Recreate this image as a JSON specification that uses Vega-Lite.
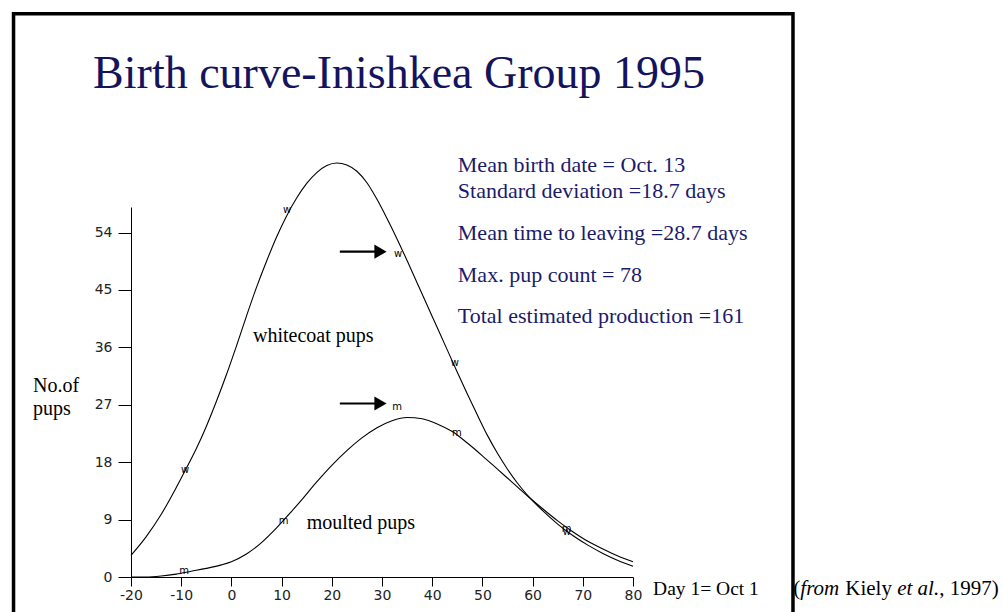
{
  "$schema": "https://vega.github.io/schema/vega-lite/v6.json",
  "autosize": "none",
  "width": 502,
  "height": 370,
  "padding": {"left": 131, "top": 207, "right": 370, "bottom": 35},
  "background": "white",
  "config": {"view": {"stroke": null}},
  "datasets": {
    "curves": [
      {"series": "whitecoat", "day": -20, "pups": 3.4},
      {"series": "whitecoat", "day": -17, "pups": 6.3},
      {"series": "whitecoat", "day": -14, "pups": 9.8},
      {"series": "whitecoat", "day": -11, "pups": 14.0},
      {"series": "whitecoat", "day": -9, "pups": 17.0},
      {"series": "whitecoat", "day": -7, "pups": 20.1},
      {"series": "whitecoat", "day": -5, "pups": 23.6},
      {"series": "whitecoat", "day": -3, "pups": 27.5},
      {"series": "whitecoat", "day": -1, "pups": 31.7},
      {"series": "whitecoat", "day": 1, "pups": 36.2},
      {"series": "whitecoat", "day": 3, "pups": 40.9},
      {"series": "whitecoat", "day": 5, "pups": 45.4},
      {"series": "whitecoat", "day": 7, "pups": 49.5},
      {"series": "whitecoat", "day": 9, "pups": 53.3},
      {"series": "whitecoat", "day": 11, "pups": 56.6},
      {"series": "whitecoat", "day": 13, "pups": 59.4},
      {"series": "whitecoat", "day": 15, "pups": 61.7},
      {"series": "whitecoat", "day": 17, "pups": 63.4},
      {"series": "whitecoat", "day": 19, "pups": 64.5},
      {"series": "whitecoat", "day": 21, "pups": 64.9},
      {"series": "whitecoat", "day": 23, "pups": 64.6},
      {"series": "whitecoat", "day": 25, "pups": 63.6},
      {"series": "whitecoat", "day": 27, "pups": 61.8},
      {"series": "whitecoat", "day": 29, "pups": 59.2},
      {"series": "whitecoat", "day": 31, "pups": 56.2},
      {"series": "whitecoat", "day": 33, "pups": 53.0},
      {"series": "whitecoat", "day": 35, "pups": 49.6},
      {"series": "whitecoat", "day": 37, "pups": 46.1},
      {"series": "whitecoat", "day": 39, "pups": 42.6},
      {"series": "whitecoat", "day": 41, "pups": 39.1},
      {"series": "whitecoat", "day": 43, "pups": 35.6},
      {"series": "whitecoat", "day": 45, "pups": 32.1},
      {"series": "whitecoat", "day": 47, "pups": 28.7},
      {"series": "whitecoat", "day": 49, "pups": 25.4},
      {"series": "whitecoat", "day": 51, "pups": 22.2},
      {"series": "whitecoat", "day": 53, "pups": 19.4},
      {"series": "whitecoat", "day": 55, "pups": 16.9},
      {"series": "whitecoat", "day": 57, "pups": 14.7},
      {"series": "whitecoat", "day": 59, "pups": 12.8},
      {"series": "whitecoat", "day": 62, "pups": 10.4},
      {"series": "whitecoat", "day": 65, "pups": 8.3},
      {"series": "whitecoat", "day": 68, "pups": 6.5},
      {"series": "whitecoat", "day": 71, "pups": 5.0},
      {"series": "whitecoat", "day": 74, "pups": 3.7},
      {"series": "whitecoat", "day": 77, "pups": 2.6},
      {"series": "whitecoat", "day": 80, "pups": 1.7},
      {"series": "moulted", "day": -20, "pups": 0},
      {"series": "moulted", "day": -17, "pups": 0},
      {"series": "moulted", "day": -14, "pups": 0.15},
      {"series": "moulted", "day": -11, "pups": 0.45},
      {"series": "moulted", "day": -8, "pups": 0.9},
      {"series": "moulted", "day": -5, "pups": 1.35},
      {"series": "moulted", "day": -2, "pups": 1.9},
      {"series": "moulted", "day": 0, "pups": 2.4},
      {"series": "moulted", "day": 3, "pups": 3.6},
      {"series": "moulted", "day": 6, "pups": 5.4},
      {"series": "moulted", "day": 9, "pups": 7.7},
      {"series": "moulted", "day": 12, "pups": 10.3},
      {"series": "moulted", "day": 14, "pups": 12.1},
      {"series": "moulted", "day": 17, "pups": 14.9},
      {"series": "moulted", "day": 20, "pups": 17.5},
      {"series": "moulted", "day": 23, "pups": 19.8},
      {"series": "moulted", "day": 26, "pups": 21.8},
      {"series": "moulted", "day": 29, "pups": 23.4},
      {"series": "moulted", "day": 32, "pups": 24.5},
      {"series": "moulted", "day": 35, "pups": 25.0},
      {"series": "moulted", "day": 38, "pups": 24.8},
      {"series": "moulted", "day": 41, "pups": 24.0},
      {"series": "moulted", "day": 44, "pups": 22.8},
      {"series": "moulted", "day": 47, "pups": 21.0},
      {"series": "moulted", "day": 50, "pups": 19.0},
      {"series": "moulted", "day": 53, "pups": 16.9},
      {"series": "moulted", "day": 56, "pups": 14.8},
      {"series": "moulted", "day": 59, "pups": 12.7},
      {"series": "moulted", "day": 62, "pups": 10.7},
      {"series": "moulted", "day": 65, "pups": 8.8},
      {"series": "moulted", "day": 68, "pups": 7.1},
      {"series": "moulted", "day": 71, "pups": 5.6},
      {"series": "moulted", "day": 74, "pups": 4.4},
      {"series": "moulted", "day": 77, "pups": 3.3},
      {"series": "moulted", "day": 80, "pups": 2.4}
    ],
    "frame": [
      {"day": -43.4, "day_end": 111.87, "pups": 88.3, "pups_end": -10}
    ],
    "title": [
      {"text": "Birth curve-Inishkea Group 1995", "day": 33.4, "pups": 76.6}
    ],
    "info": [
      {"text": "Mean birth date = Oct. 13", "day": 45.1, "pups": 63.5},
      {"text": "Standard deviation =18.7 days", "day": 45.1, "pups": 59.4},
      {"text": "Mean time to leaving =28.7 days", "day": 45.1, "pups": 52.8},
      {"text": "Max. pup count = 78", "day": 45.1, "pups": 46.3},
      {"text": "Total estimated production =161", "day": 45.1, "pups": 39.8}
    ],
    "labels": [
      {"text": "whitecoat pups", "day": 4.3, "pups": 36.8},
      {"text": "moulted pups", "day": 15.0, "pups": 7.6},
      {"text": "No.of", "day": -39.5, "pups": 29.0},
      {"text": "pups", "day": -39.5, "pups": 25.4}
    ],
    "footer": [
      {"text": "Day 1= Oct 1", "day": 84.0, "pups": -2.8}
    ],
    "citeNormal": [
      {"text": "(", "day": 111.93, "pups": -2.8},
      {"text": "Kiely", "day": 122.29, "pups": -2.8},
      {"text": ", 1997)", "day": 141.0, "pups": -2.8}
    ],
    "citeItalic": [
      {"text": "from", "day": 113.33, "pups": -2.8},
      {"text": "et al.", "day": 132.63, "pups": -2.8}
    ],
    "markers": [
      {"text": "w", "day": -9.24, "pups": 16.8},
      {"text": "w", "day": 11.1, "pups": 57.6},
      {"text": "w", "day": 33.2, "pups": 50.7},
      {"text": "w", "day": 44.5, "pups": 33.5},
      {"text": "w", "day": 66.8, "pups": 7.05},
      {"text": "m", "day": -9.4, "pups": 0.94},
      {"text": "m", "day": 10.4, "pups": 8.8},
      {"text": "m", "day": 33.0, "pups": 26.7},
      {"text": "m", "day": 44.9, "pups": 22.5},
      {"text": "m", "day": 66.8, "pups": 7.5}
    ],
    "arrows": [
      {"day": 21.6, "day_end": 29.0, "pups": 51.0},
      {"day": 21.6, "day_end": 29.0, "pups": 27.2}
    ],
    "arrowheads": [
      {"day": 29.7, "pups": 51.0},
      {"day": 29.7, "pups": 27.2}
    ]
  },
  "encoding": {
    "x": {"field": "day", "type": "quantitative", "scale": {"domain": [-20, 80], "nice": false, "zero": false},
      "axis": {"values": [-20, -10, 0, 10, 20, 30, 40, 50, 60, 70, 80], "labelExpr": "'' + datum.value", "title": null, "grid": false, "tickSize": 9, "labelPadding": 2, "labelFont": "DejaVu Sans", "labelFontSize": 14, "labelColor": "#222", "domainColor": "black", "tickColor": "black", "labelFlush": false}},
    "y": {"field": "pups", "type": "quantitative", "scale": {"domain": [0, 58], "nice": false, "zero": false},
      "axis": {"values": [0, 9, 18, 27, 36, 45, 54], "labelExpr": "'' + datum.value", "title": null, "grid": false, "tickSize": 13, "labelPadding": 6, "labelFont": "DejaVu Sans", "labelFontSize": 14, "labelColor": "#222", "domainColor": "black", "tickColor": "black", "labelFlush": false}}
  },
  "layer": [
    {
      "data": {"name": "frame"},
      "mark": {"type": "rect", "fillOpacity": 0, "stroke": "black", "strokeWidth": 3.5, "clip": false},
      "encoding": {
        "x2": {"field": "day_end"},
        "y2": {"field": "pups_end"}
      }
    },
    {
      "data": {"name": "curves"},
      "mark": {"type": "line", "color": "black", "strokeWidth": 1.1, "interpolate": "monotone", "clip": false},
      "encoding": {
        "detail": {"field": "series", "type": "nominal"}
      }
    },
    {
      "data": {"name": "title"},
      "mark": {"type": "text", "font": "Liberation Serif", "fontSize": 46, "color": "#14145e", "align": "center", "baseline": "alphabetic"},
      "encoding": {"text": {"field": "text"}}
    },
    {
      "data": {"name": "info"},
      "mark": {"type": "text", "font": "Liberation Serif", "fontSize": 22, "color": "#1b1b6b", "align": "left", "baseline": "alphabetic"},
      "encoding": {"text": {"field": "text"}}
    },
    {
      "data": {"name": "labels"},
      "mark": {"type": "text", "font": "Liberation Serif", "fontSize": 20, "color": "black", "align": "left", "baseline": "alphabetic"},
      "encoding": {"text": {"field": "text"}}
    },
    {
      "data": {"name": "footer"},
      "mark": {"type": "text", "font": "Liberation Serif", "fontSize": 19.5, "color": "black", "align": "left", "baseline": "alphabetic"},
      "encoding": {"text": {"field": "text"}}
    },
    {
      "data": {"name": "citeNormal"},
      "mark": {"type": "text", "font": "Liberation Serif", "fontSize": 21, "color": "black", "align": "left", "baseline": "alphabetic"},
      "encoding": {"text": {"field": "text"}}
    },
    {
      "data": {"name": "citeItalic"},
      "mark": {"type": "text", "font": "Liberation Serif", "fontSize": 21, "fontStyle": "italic", "color": "black", "align": "left", "baseline": "alphabetic"},
      "encoding": {"text": {"field": "text"}}
    },
    {
      "data": {"name": "markers"},
      "mark": {"type": "text", "font": "DejaVu Sans", "fontSize": 10, "color": "black", "align": "center", "baseline": "middle"},
      "encoding": {"text": {"field": "text"}}
    },
    {
      "data": {"name": "arrows"},
      "mark": {"type": "rule", "color": "black", "strokeWidth": 2.2},
      "encoding": {"x2": {"field": "day_end"}}
    },
    {
      "data": {"name": "arrowheads"},
      "mark": {"type": "point", "shape": "triangle-right", "filled": true, "color": "black", "opacity": 1, "size": 200}
    }
  ]
}
